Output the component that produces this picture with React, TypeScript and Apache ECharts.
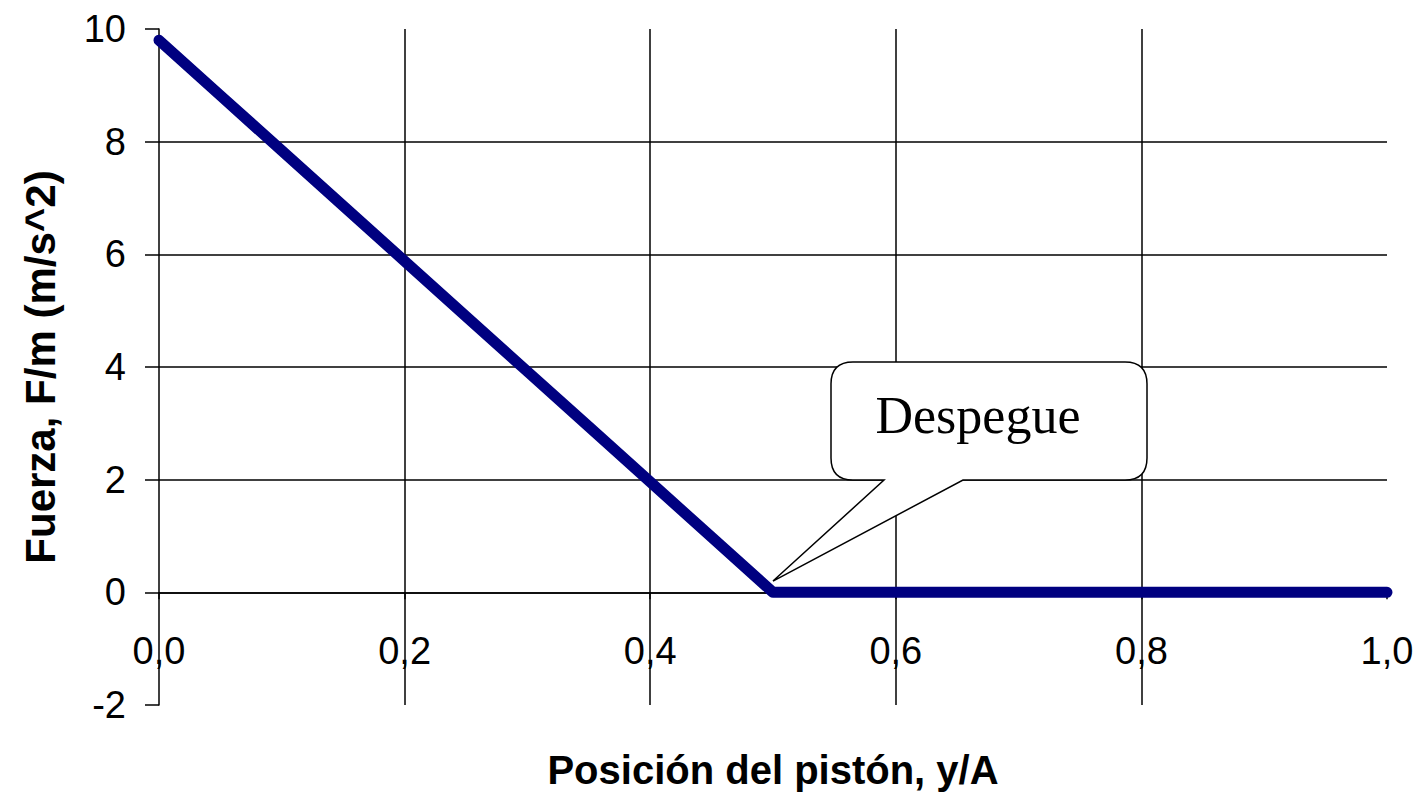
import React, { useEffect, useRef } from "react";
import * as echarts from "echarts";

// ---- data ----
const positions = [0, 0.05, 0.1, 0.15, 0.2, 0.25, 0.3, 0.35, 0.4, 0.45, 0.5, 0.55, 0.6, 0.65, 0.7, 0.75, 0.8, 0.85, 0.9, 0.95, 1.0];
const forces = [9.8, 8.82, 7.84, 6.86, 5.88, 4.9, 3.92, 2.94, 1.96, 0.98, 0, 0, 0, 0, 0, 0, 0, 0, 0, 0, 0];
const xTitle = "Posición del pistón, y/A";
const yTitle = "Fuerza, F/m (m/s^2)";
const calloutText = "Despegue";
const calloutTip = [0.5, 0.2];
const yMin = -2;
const yMax = 10;

// callout outline (local coords, origin at box top-left)
const calloutPath =
  "M 22 0 L 294 0 Q 316 0 316 22 L 316 96 Q 316 118 294 118 L 132 118 L -58 219 L 53 118 L 22 118 Q 0 118 0 96 L 0 22 Q 0 0 22 0 Z";
echarts.graphic.registerShape("callout", echarts.graphic.extendPath(calloutPath, {}) as any);

export default function App() {
  const ref = useRef<HTMLDivElement>(null);
  useEffect(() => {
    document.body.style.margin = "0";
    const chart = echarts.init(ref.current!, null, { renderer: "svg" });
    const font = "'Liberation Sans', Arial, sans-serif";
    const H = 795;
    const grid = { left: 159, right: 34, top: 29, bottom: 90 };
    const gridH = H - grid.top - grid.bottom;
    // raise the x axis so that it crosses the y axis at zero
    const zeroOffset = -((0 - yMin) / (yMax - yMin)) * gridH;
    chart.setOption({
      animation: false,
      backgroundColor: "#fff",
      grid: { ...grid, containLabel: false, outerBoundsMode: "none" },
      xAxis: {
        type: "value",
        min: 0,
        max: 1,
        interval: 0.2,
        offset: zeroOffset,
        name: xTitle,
        nameLocation: "middle",
        nameGap: 158,
        nameTextStyle: { fontFamily: font, fontSize: 40, fontWeight: "bold", color: "#000" },
        axisLine: { onZero: false, lineStyle: { color: "#000", width: 1.5 } },
        axisTick: { show: true, length: 7, lineStyle: { color: "#000", width: 1.5 } },
        axisLabel: {
          margin: 40,
          fontFamily: font,
          fontSize: 38,
          color: "#000",
          formatter: (v: number) => v.toFixed(1).replace(".", ","),
        },
        splitLine: { show: true, showMinLine: false, showMaxLine: false, lineStyle: { color: "#000", width: 1.5 } },
      },
      yAxis: {
        type: "value",
        min: yMin,
        max: yMax,
        interval: 2,
        name: yTitle,
        nameLocation: "middle",
        nameGap: 98,
        nameTextStyle: { fontFamily: font, fontSize: 42, fontWeight: "bold", color: "#000" },
        axisLine: { show: true, onZero: false, lineStyle: { color: "#000", width: 1.5 } },
        axisTick: { show: true, length: 14, lineStyle: { color: "#000", width: 1.5 } },
        axisLabel: { margin: 33, fontFamily: font, fontSize: 38, color: "#000" },
        splitLine: { show: true, showMinLine: false, showMaxLine: false, lineStyle: { color: "#000", width: 1.5 } },
      },
      series: [
        {
          type: "line",
          data: positions.map((p, i) => [p, forces[i]]),
          showSymbol: false,
          symbol: "none",
          lineStyle: { color: "#000080", width: 11, cap: "round", join: "round" },
          z: 5,
        },
      ],
    });
    const tip = chart.convertToPixel({ gridIndex: 0 }, calloutTip) as number[];
    const bx = tip[0] + 58;
    const by = tip[1] - 219;
    chart.setOption({
      graphic: [
        {
          type: "callout",
          x: bx,
          y: by,
          z: 100,
          style: { fill: "#fff", stroke: "#000", lineWidth: 1.5 },
        },
        {
          type: "text",
          x: bx + 147,
          y: by + 53,
          z: 101,
          style: {
            text: calloutText,
            fill: "#000",
            font: "52px 'Liberation Serif', 'Times New Roman', serif",
            textAlign: "center",
            textVerticalAlign: "middle",
          },
        },
      ],
    });
    return () => chart.dispose();
  }, []);
  return <div ref={ref} style={{ width: 1421, height: 795 }} />;
}
